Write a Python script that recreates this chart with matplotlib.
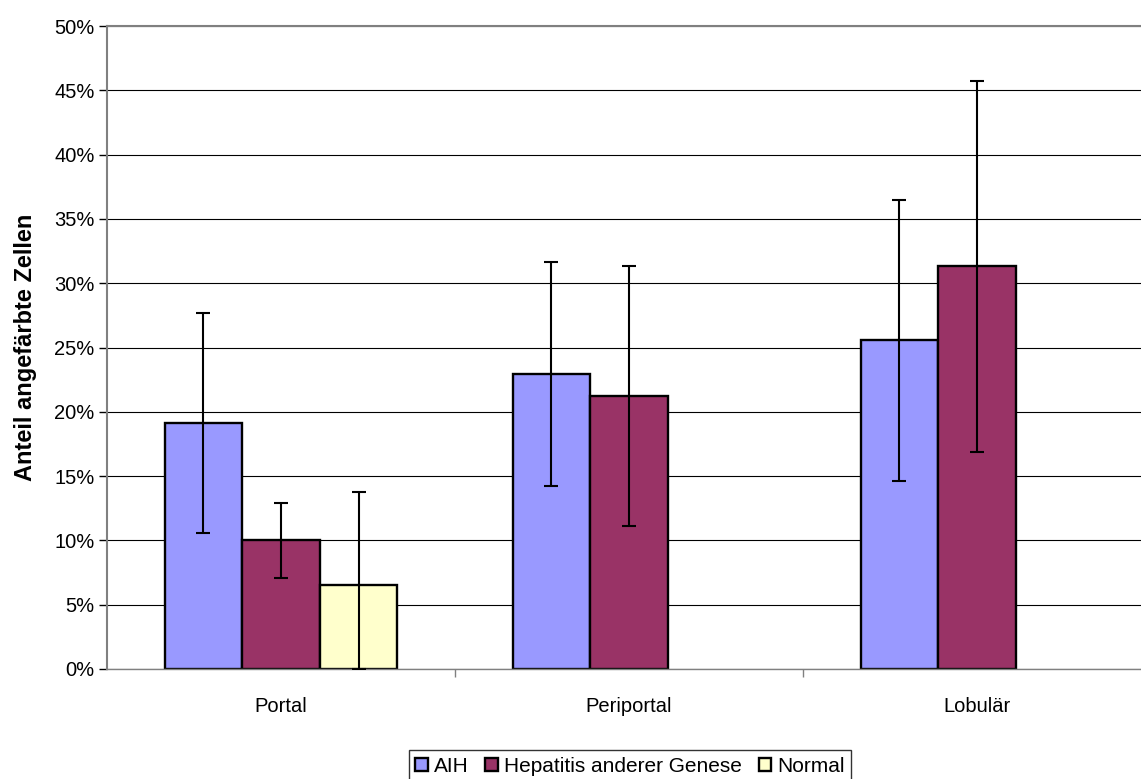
import numpy as np
import matplotlib.pyplot as plt
from matplotlib.ticker import PercentFormatter

plt.rcParams['font.family'] = ['Liberation Sans', 'DejaVu Sans']

categories = ['Portal', 'Periportal', 'Lobulär']
series = ['AIH', 'Hepatitis anderer Genese', 'Normal']
colors = ['#9999FF', '#993366', '#FFFFCC']

# mean and standard deviation in %
aih_mean = [19.1, 22.95, 25.55]
aih_sd = [8.55, 8.7, 10.95]
hep_mean = [10.0, 21.2, 31.3]
hep_sd = [2.9, 10.1, 14.4]
normal_mean = [6.5, np.nan, np.nan]
normal_sd = [7.3, np.nan, np.nan]

means = [aih_mean, hep_mean, normal_mean]
sds = [aih_sd, hep_sd, normal_sd]

fig = plt.figure(figsize=(11.41, 7.79), dpi=100)
ax = fig.add_axes([107/1141, 1-669/779, 1044/1141, (669-26)/779])

x = np.arange(len(categories))
w = 0.223
for i, (m, s) in enumerate(zip(means, sds)):
    m = np.array(m, dtype=float)
    s = np.array(s, dtype=float)
    pos = x + (i - 1) * w
    ok = ~np.isnan(m)
    ax.bar(pos[ok], m[ok], w, color=colors[i], edgecolor='black',
           linewidth=1.7, label=series[i], zorder=2)
    lower = np.minimum(s[ok], m[ok])
    ax.errorbar(pos[ok], m[ok], yerr=[lower, s[ok]], fmt='none', ecolor='black',
                elinewidth=1.5, capsize=5, capthick=1.5, zorder=3)

ax.set_xlim(-0.5, 2.5)
ax.set_ylim(0, 50)
ax.set_yticks(np.arange(0, 51, 5))
ax.yaxis.set_major_formatter(PercentFormatter(decimals=0))
ax.yaxis.grid(True, color='black', linewidth=0.8, zorder=0)
ax.set_axisbelow(True)

ax.set_xticks([0.5, 1.5], minor=False)
ax.set_xticklabels([])
ax.set_xticks(x, minor=True)
ax.set_xticklabels(categories, minor=True, fontsize=14.5)
ax.tick_params(axis='x', which='minor', length=0, pad=20)
ax.tick_params(axis='x', which='major', length=6, color='#808080', width=1)
ax.tick_params(axis='y', length=6, width=1, labelsize=14.5, pad=3)

ax.spines['right'].set_visible(False)
ax.spines['left'].set_color('#808080')
ax.spines['left'].set_linewidth(1.5)
ax.spines['top'].set_color('#808080')
ax.spines['top'].set_linewidth(1.5)
ax.spines['bottom'].set_color('#808080')
ax.spines['bottom'].set_linewidth(1)

ax.set_ylabel('Anteil angefärbte Zellen', fontsize=17, fontweight='bold', labelpad=12)

handles, labels = ax.get_legend_handles_labels()
leg = fig.legend(handles, labels, loc='center', bbox_to_anchor=(630/1141, 1-766/779),
                 ncol=3, fontsize=15, frameon=True, fancybox=False, edgecolor='black',
                 handlelength=0.6, handleheight=0.6, handletextpad=0.3,
                 columnspacing=0.8, borderpad=0.3, borderaxespad=0)
leg.get_frame().set_linewidth(1)

fig.savefig('out.png', dpi=100)
